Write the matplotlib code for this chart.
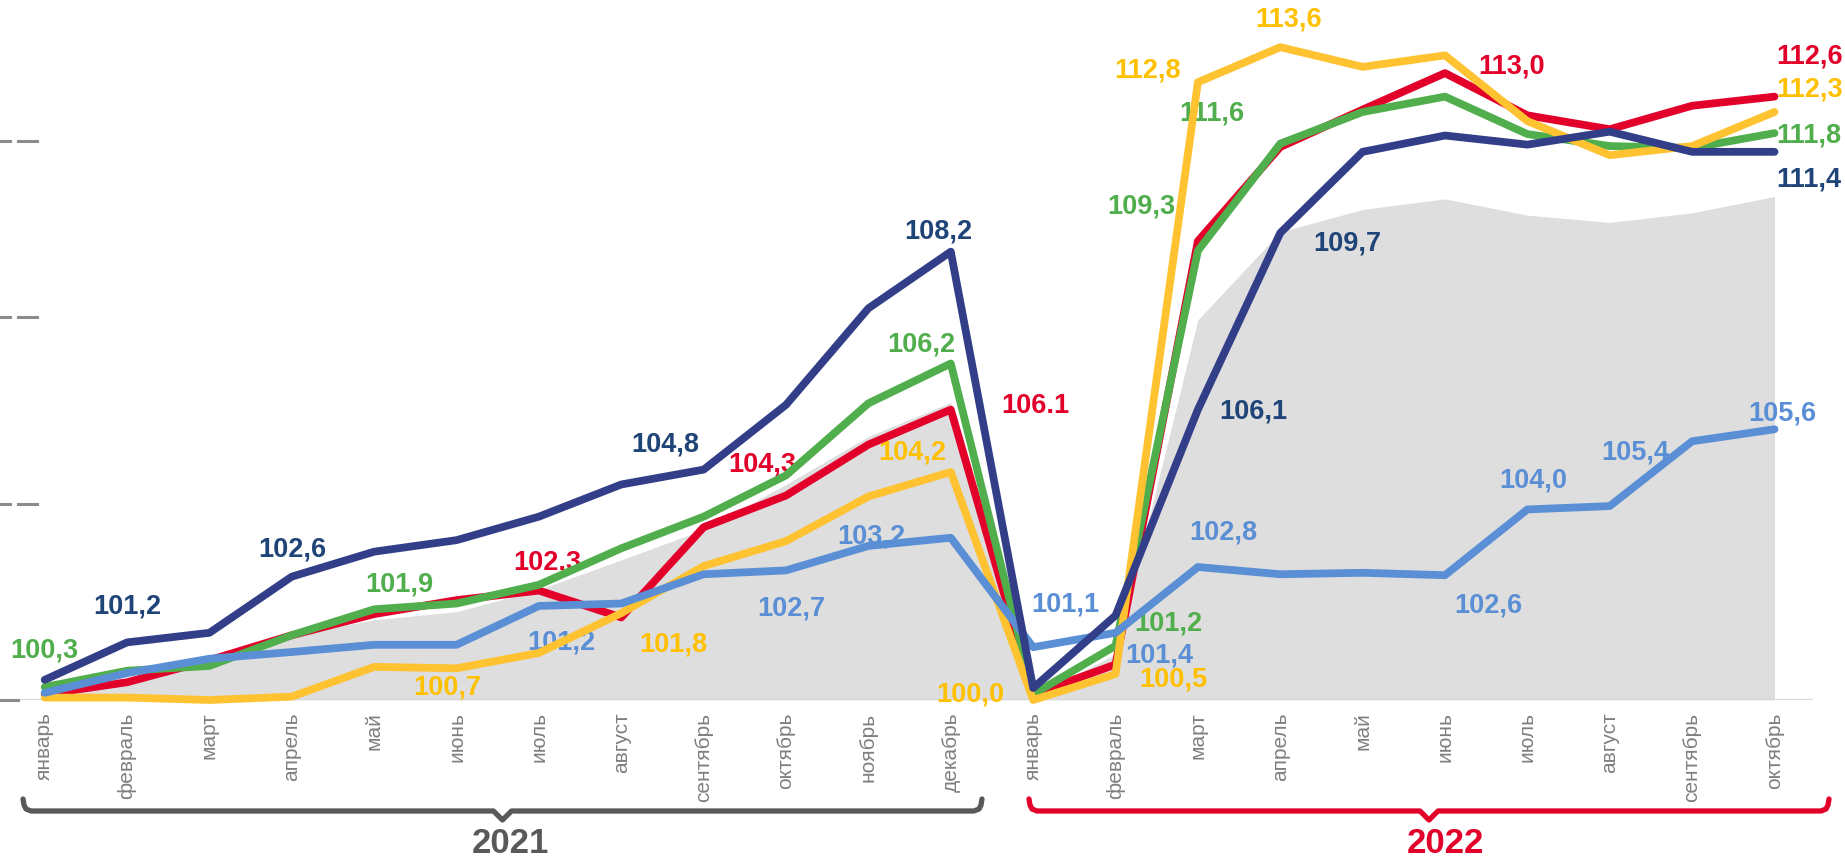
import matplotlib
matplotlib.use('Agg')
import matplotlib.pyplot as plt

plt.rcParams['font.family'] = ['Liberation Sans', 'DejaVu Sans']

months = ['январь', 'февраль', 'март', 'апрель', 'май', 'июнь', 'июль', 'август',
          'сентябрь', 'октябрь', 'ноябрь', 'декабрь',
          'январь', 'февраль', 'март', 'апрель', 'май', 'июнь', 'июль', 'август',
          'сентябрь', 'октябрь']
years = ['2021', '2022']

navy = [100.42, 101.20, 101.40, 102.57, 103.09, 103.33, 103.82, 104.49, 104.80, 106.15, 108.16, 109.34,
        100.25, 101.76, 106.05, 109.73, 111.42, 111.76, 111.57, 111.84, 111.42, 111.42]
red = [100.12, 100.37, 100.83, 101.35, 101.79, 102.08, 102.28, 101.72, 103.60, 104.26, 105.32, 106.05,
       100.12, 100.74, 109.56, 111.52, 112.30, 113.06, 112.18, 111.89, 112.38, 112.57]
green = [100.27, 100.61, 100.71, 101.35, 101.89, 102.01, 102.40, 103.16, 103.82, 104.68, 106.18, 107.01,
         100.12, 101.13, 109.36, 111.59, 112.25, 112.57, 111.79, 111.54, 111.50, 111.81]
yellow = [100.05, 100.05, 100.00, 100.07, 100.69, 100.66, 100.98, 101.81, 102.79, 103.31, 104.24, 104.75,
          100.00, 100.54, 112.87, 113.60, 113.19, 113.43, 112.06, 111.35, 111.54, 112.25]
lightblue = [100.15, 100.56, 100.86, 101.00, 101.15, 101.15, 101.96, 102.01, 102.62, 102.70, 103.21, 103.38,
             101.10, 101.40, 102.77, 102.62, 102.65, 102.60, 103.97, 104.04, 105.39, 105.64]
gray_area = [100.12, 100.40, 100.85, 101.35, 101.67, 101.84, 102.30, 102.92, 103.55, 104.49, 105.49, 106.20,
             100.05, 100.96, 107.92, 109.75, 110.22, 110.44, 110.10, 109.95, 110.15, 110.49]

# data labels: text, x (month index), y (value units)
navy_lbl = [('101,2', 1.0, 101.94), ('102,6', 3.0, 103.14), ('104,8', 7.53, 105.32),
            ('108,2', 10.85, 109.77), ('106,1', 14.67, 106.00), ('109,7', 15.81, 109.51),
            ('111,4', 21.42, 110.85)]
red_lbl = [('102,3', 6.10, 102.87), ('104,3', 8.71, 104.90), ('106.1', 12.03, 106.13),
           ('113,0', 17.81, 113.19), ('112,6', 21.42, 113.41)]
green_lbl = [('100,3', 0.0, 101.03), ('101,9', 4.31, 102.40), ('106,2', 10.64, 107.40),
             ('109,3', 13.31, 110.29), ('111,6', 14.17, 112.21), ('101,2', 13.64, 101.59),
             ('111,8', 21.42, 111.76)]
yellow_lbl = [('100,7', 4.89, 100.27), ('101,8', 7.63, 101.15), ('104,2', 10.53, 105.15),
              ('100,0', 11.24, 100.12), ('100,5', 13.70, 100.42), ('112,8', 13.39, 113.11),
              ('113,6', 15.10, 114.17), ('112,3', 21.42, 112.72)]
lightblue_lbl = [('101,2', 6.27, 101.20), ('103,2', 10.03, 103.41), ('102,7', 9.06, 101.91),
                 ('101,1', 12.39, 101.99), ('101,4', 13.53, 100.93), ('102,8', 14.31, 103.48),
                 ('102,6', 17.53, 101.96), ('104,0', 18.07, 104.58), ('105,4', 19.31, 105.15),
                 ('105,6', 21.10, 105.96)]
yticks = [100.0, 104.09, 107.97, 111.64]

W, H = 1845, 858
fig = plt.figure(figsize=(W / 100, H / 100), dpi=100)
ax = fig.add_axes([0, 158 / H, 1, 700 / H])
x = list(range(len(months)))
ax.set_xlim(-0.5427, 21.856)
ax.set_ylim(100, 114.583)
for s in ax.spines.values():
    s.set_visible(False)

ax.fill_between(x, 100, gray_area, color='#DEDEDE', lw=0, zorder=1)
ax.axhline(100, xmin=0, xmax=1812 / W, color='#D9D9D9', lw=1.5, zorder=1.5)

series = [
    (red, '#E2002A', red_lbl, '#E2002A'),
    (green, '#50AE4C', green_lbl, '#50AE4C'),
    (yellow, '#FFC230', yellow_lbl, '#FFC000'),
    (lightblue, '#5A8FD6', lightblue_lbl, '#5A8FD6'),
    (navy, '#323F88', navy_lbl, '#1F4477'),
]
lblfont = dict(family=['Liberation Sans', 'DejaVu Sans'], weight='bold', size=19.5)
for i, (vals, col, lbls, lcol) in enumerate(series):
    ax.plot(x, vals, color=col, lw=5.6, solid_capstyle='round', solid_joinstyle='round',
            zorder=5 + i, clip_on=False)
    for t, lx, ly in lbls:
        ax.text(lx, ly, t, color=lcol, ha='center', va='center', zorder=3, **lblfont)

# dashed tick marks on the left
ytr = ax.get_yaxis_transform()
for v in yticks:
    if v == 100.0:
        ax.plot([0, 18 / W], [v, v], color='#8C8C8C', lw=2.2, transform=ytr, clip_on=False, zorder=2)
    else:
        ax.plot([0, 10 / W], [v, v], color='#8C8C8C', lw=2.2, transform=ytr, clip_on=False, zorder=2)
        ax.plot([18 / W, 37 / W], [v, v], color='#8C8C8C', lw=2.2, transform=ytr, clip_on=False, zorder=2)

ax.set_yticks([])
ax.set_xticks(x)
ax.set_xticklabels(months, rotation=90, color='#7F7F7F', fontsize=15)
ax.tick_params(axis='x', length=0, pad=9)

# year brackets (overlay in pixel coordinates)
ov = fig.add_axes([0, 0, 1, 1])
ov.set_xlim(0, W)
ov.set_ylim(H, 0)
ov.axis('off')
ov.patch.set_alpha(0)


def bracket(x0, x1, color):
    xc = (x0 + x1) / 2
    yl = 811
    xs = [x0, x0 + 1, x0 + 3, x0 + 8, xc - 9, xc, xc + 9, x1 - 8, x1 - 3, x1 - 1, x1]
    ys = [799, 805, 809, yl, yl, 820, yl, yl, 809, 805, 799]
    ov.plot(xs, ys, color=color, lw=3.8, solid_capstyle='round', solid_joinstyle='round')


bracket(23, 982, '#595959')
bracket(1029, 1829, '#E2002A')
yfont = dict(family=['Liberation Sans', 'DejaVu Sans'], weight='bold', size=25)
ov.text(510, 853, years[0], color='#595959', ha='center', va='baseline', **yfont)
ov.text(1445, 853, years[1], color='#E2002A', ha='center', va='baseline', **yfont)

fig.savefig('out.png', dpi=100)
